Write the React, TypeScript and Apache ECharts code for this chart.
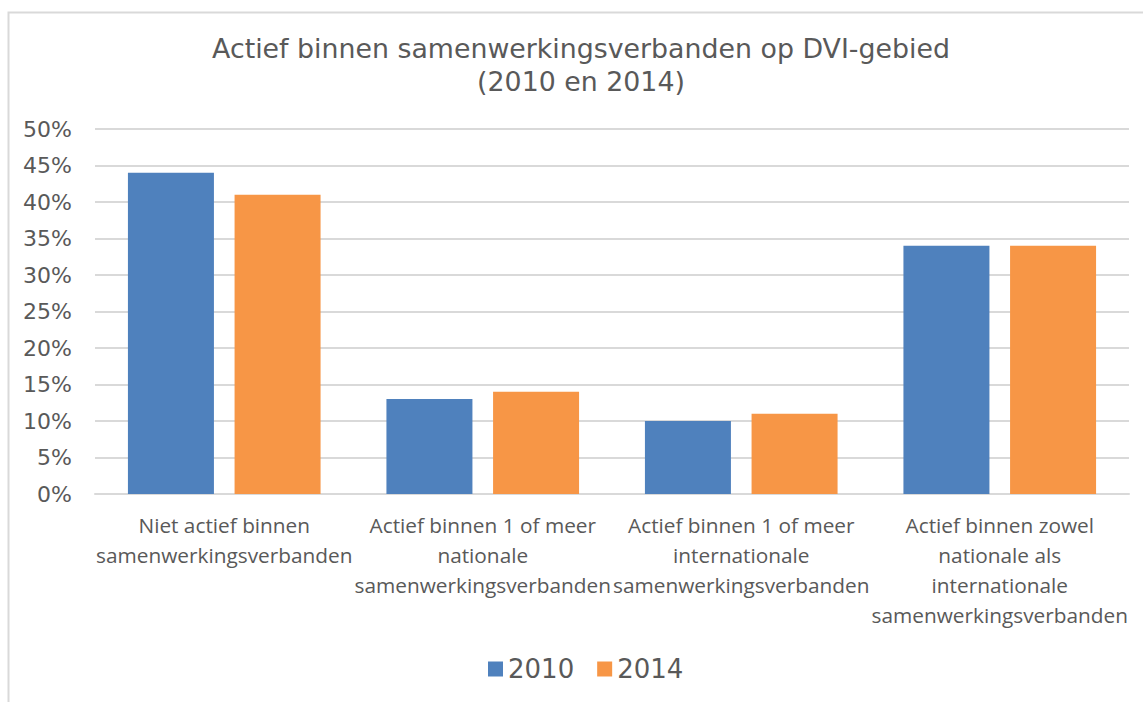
import React, { useEffect, useRef } from "react";
import * as echarts from "echarts";

const categories = [
  "Niet actief binnen\nsamenwerkingsverbanden",
  "Actief binnen 1 of meer\nnationale\nsamenwerkingsverbanden",
  "Actief binnen 1 of meer\ninternationale\nsamenwerkingsverbanden",
  "Actief binnen zowel\nnationale als\ninternationale\nsamenwerkingsverbanden",
];
const values2010 = [44, 13, 10, 34];
const values2014 = [41, 14, 11, 34];
const seriesNames = ["2010", "2014"];
const titleText = "Actief binnen samenwerkingsverbanden op DVI-gebied\n(2010 en 2014)";

const verdana = "Verdana, 'DejaVu Sans', sans-serif";

export default function App() {
  const ref = useRef<HTMLDivElement>(null);
  useEffect(() => {
    if (!ref.current) return;
    const chart = echarts.init(ref.current, undefined, { renderer: "svg" });
    const textColor = "#595959";
    chart.setOption({
      animation: false,
      backgroundColor: "#ffffff",
      graphic: [
        {
          type: "rect",
          left: 6,
          top: 10,
          shape: { x: 0, y: 0, width: 1160, height: 720 },
          style: { fill: "none", stroke: "#d9d9d9", lineWidth: 2 },
          silent: true,
          z: -1,
        },
      ],
      title: {
        text: titleText,
        left: 576,
        top: 27,
        textAlign: "center",
        textStyle: {
          fontFamily: verdana,
          fontSize: 26.8,
          fontWeight: "normal",
          color: textColor,
          lineHeight: 33,
        },
      },
      legend: {
        data: seriesNames,
        left: 483,
        top: 651,
        itemWidth: 15,
        itemHeight: 15,
        itemGap: 23,
        icon: "rect",
        textStyle: { fontFamily: verdana, fontSize: 26, color: textColor, padding: [0, 0, 0, 0] },
      },
      grid: { left: 95, right: 14, top: 129, bottom: 208 },
      xAxis: {
        type: "category",
        data: categories,
        axisLine: { lineStyle: { color: "#d9d9d9", width: 2 } },
        axisTick: { show: false },
        axisLabel: {
          interval: 0,
          margin: 16,
          fontFamily: "'Open Sans', sans-serif",
          fontSize: 20.8,
          lineHeight: 30,
          color: textColor,
        },
      },
      yAxis: {
        type: "value",
        min: 0,
        max: 50,
        interval: 5,
        axisLine: { show: false },
        axisTick: { show: false },
        splitLine: { lineStyle: { color: "#d9d9d9", width: 2 } },
        axisLabel: {
          formatter: "{value}%",
          margin: 23,
          fontFamily: verdana,
          fontSize: 22,
          color: textColor,
        },
      },
      series: [
        {
          name: seriesNames[0],
          type: "bar",
          data: values2010,
          barWidth: 86,
          barGap: "24%",
          itemStyle: { color: "#4F81BD" },
        },
        {
          name: seriesNames[1],
          type: "bar",
          data: values2014,
          barWidth: 86,
          itemStyle: { color: "#F79646" },
        },
      ],
    });
    return () => chart.dispose();
  }, []);
  return (
    <div
      ref={ref}
      style={{ position: "absolute", left: 0, top: 0, width: 1143, height: 702 }}
    />
  );
}
